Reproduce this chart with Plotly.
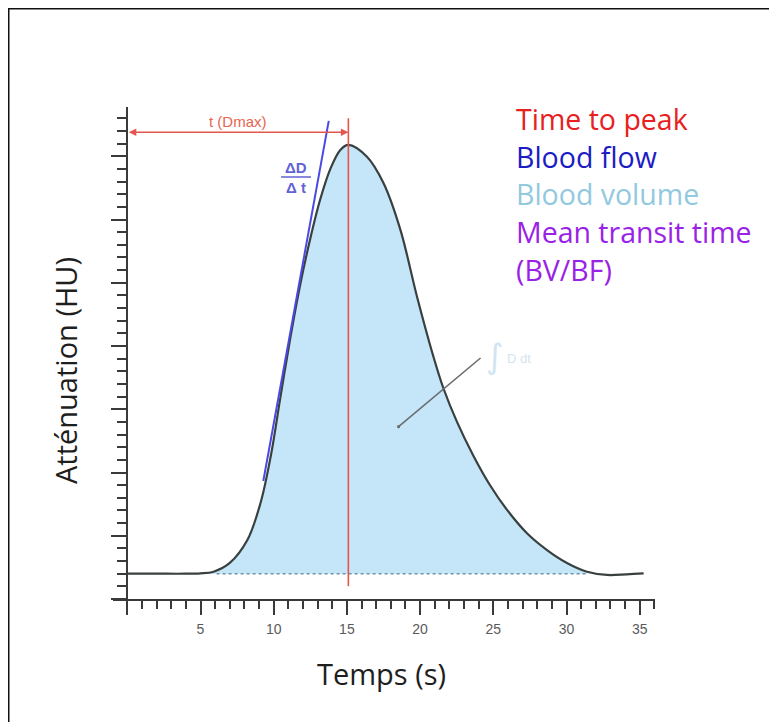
import plotly.graph_objects as go

# ---------------- data ----------------
time_s = [0, 2, 4, 5, 5.9, 7.0, 8.2, 9.1, 9.8, 10.45, 11.13, 11.82, 12.5, 13.18,
          13.87, 14.55, 15.1, 16.37, 17.49, 18.65, 19.79, 20.9, 21.58, 22.52,
          23.63, 24.8, 25.94, 27.3, 28.67, 30.03, 31.4, 32.77, 34.1, 35.27]
attenuation = [2.0, 2.0, 2.0, 2.03, 2.16, 2.85, 4.66, 7.59, 11.3, 15.9, 20.6,
               24.9, 28.5, 31.6, 34.0, 35.5, 35.9, 34.96, 32.9, 29.2, 23.9, 19.2,
               16.7, 14.0, 11.35, 8.95, 7.04, 5.2, 3.87, 2.85, 2.16, 1.9, 1.95, 2.03]
baseline_level = 2.0
baseline_span = [6.1, 31.4]
peak_time = 15.1
peak_line_span = [1.0, 38.0]
tmax_arrow_level = 36.9
tangent_t = [9.29, 13.76]
tangent_d = [9.33, 37.8]
integral_arrow_from = [24.23, 19.15]
integral_arrow_to = [18.53, 13.62]

x_tick_vals = [0, 5, 10, 15, 20, 25, 30, 35]
x_tick_text = ["", "5", "10", "15", "20", "25", "30", "35"]

legend_lines = ["Time to peak", "Blood flow", "Blood volume",
                "Mean transit time", "(BV/BF)"]
legend_colors = ["#e8201e", "#1c1cc4", "#93c9df", "#9a22e6", "#9a22e6"]

# ---------------- geometry helpers (screen pixel layout) ----------------
OFF = 8                      # page body margin
W, H = 769, 714
PX0, PX_PER_S = 127.3, 14.64      # screen x pixel of t=0, pixels per second
PY0, PY_PER_U = 599.0, 12.65      # screen y pixel of D=0, pixels per unit
dom_px = [113.0, 655.0]
dom_py = [599.0, 107.0]

def px(x):
    return (x - OFF) / W

def py(y):
    return 1 - (y - OFF) / H

x_range = [(dom_px[0] - PX0) / PX_PER_S, (dom_px[1] - PX0) / PX_PER_S]
y_range = [(PY0 - dom_py[0]) / PY_PER_U, (PY0 - dom_py[1]) / PY_PER_U]

fig = go.Figure()

# fill region (between baseline and curve)
fill_t = [t for t, d in zip(time_s, attenuation) if d >= baseline_level and 4.5 < t < 32]
fill_d = [d for t, d in zip(time_s, attenuation) if d >= baseline_level and 4.5 < t < 32]
fig.add_trace(go.Scatter(x=fill_t, y=[baseline_level] * len(fill_t), mode="lines",
                         line=dict(width=0, color="rgba(0,0,0,0)"), hoverinfo="skip",
                         showlegend=False))
fig.add_trace(go.Scatter(x=fill_t, y=fill_d, mode="lines", fill="tonexty",
                         fillcolor="#c5e5f8", line=dict(width=0, shape="spline",
                                                        color="rgba(0,0,0,0)"),
                         hoverinfo="skip", showlegend=False))
# dotted baseline
fig.add_trace(go.Scatter(x=baseline_span, y=[baseline_level] * 2, mode="lines",
                         line=dict(color="#6f93a8", width=1.5, dash="dot"),
                         showlegend=False))
# attenuation curve
fig.add_trace(go.Scatter(x=time_s, y=attenuation, mode="lines",
                         line=dict(color="#384040", width=2.2, shape="spline"),
                         showlegend=False))
# tangent (blood flow slope)
fig.add_trace(go.Scatter(x=tangent_t, y=tangent_d, mode="lines",
                         line=dict(color="#4a4ae2", width=2), showlegend=False))
# time-to-peak vertical line
fig.add_trace(go.Scatter(x=[peak_time, peak_time], y=peak_line_span, mode="lines",
                         line=dict(color="#e4574c", width=1.6), showlegend=False))

annotations = []
# double arrow t(Dmax)
annotations.append(dict(x=peak_time, y=tmax_arrow_level, ax=0, ay=tmax_arrow_level,
                        xref="x", yref="y", axref="x", ayref="y", text="",
                        showarrow=True, arrowhead=2, startarrowhead=2,
                        arrowside="end+start", arrowsize=1, startarrowsize=1,
                        arrowwidth=1.5, arrowcolor="#e4574c", standoff=0, startstandoff=0))
annotations.append(dict(x=px(238), y=py(121), xref="paper", yref="paper",
                        text="t (Dmax)", showarrow=False, xanchor="center", yanchor="middle",
                        font=dict(family="Liberation Sans, Arial", size=15, color="#e8644f")))
# ΔD / Δt
annotations.append(dict(x=px(296), y=py(167), xref="paper", yref="paper", text="<b>ΔD</b>",
                        showarrow=False, xanchor="center", yanchor="middle",
                        font=dict(family="Liberation Sans, Arial", size=15, color="#6262d6")))
annotations.append(dict(x=px(296), y=py(187), xref="paper", yref="paper", text="<b>Δ t</b>",
                        showarrow=False, xanchor="center", yanchor="middle",
                        font=dict(family="Liberation Sans, Arial", size=15, color="#6262d6")))
# integral label
annotations.append(dict(x=px(495), y=py(356), xref="paper", yref="paper", text="∫",
                        showarrow=False, xanchor="center", yanchor="middle",
                        font=dict(family="DejaVu Sans", size=34, color="#d3e5f1")))
annotations.append(dict(x=px(505), y=py(358), xref="paper", yref="paper", text="D dt",
                        showarrow=False, xanchor="left", yanchor="middle",
                        font=dict(family="Liberation Sans, Arial", size=13, color="#d3e5f1")))
# integral pointer arrow
annotations.append(dict(x=integral_arrow_to[0], y=integral_arrow_to[1],
                        ax=integral_arrow_from[0], ay=integral_arrow_from[1],
                        xref="x", yref="y", axref="x", ayref="y", text="",
                        showarrow=True, arrowhead=6, arrowsize=0.5, arrowwidth=1.6,
                        arrowcolor="#6a6e70", standoff=0))
# legend-like text block
legend_y = [119, 157, 194, 232, 270]
for txt, col, yy in zip(legend_lines, legend_colors, legend_y):
    annotations.append(dict(x=px(514), y=py(yy), xref="paper", yref="paper", text=txt,
                            showarrow=False, xanchor="left", yanchor="middle",
                            font=dict(family="Open Sans", size=28.5, color=col)))
# axis titles
annotations.append(dict(x=px(65), y=py(371), xref="paper", yref="paper",
                        text="Atténuation (HU)", textangle=-90, showarrow=False,
                        xanchor="center", yanchor="middle",
                        font=dict(family="Open Sans", size=29, color="#1e1e1e")))
annotations.append(dict(x=px(381), y=py(673), xref="paper", yref="paper",
                        text="Temps (s)", showarrow=False,
                        xanchor="center", yanchor="middle",
                        font=dict(family="Open Sans", size=29, color="#1e1e1e")))

shapes = [
    # fraction bar of ΔD/Δt
    dict(type="line", xref="paper", yref="paper", x0=px(281), x1=px(311),
         y0=py(177), y1=py(177), line=dict(color="#6262d6", width=1.5)),
    # outer frame (left and top edges visible)
    dict(type="rect", xref="paper", yref="paper", x0=px(8.5), x1=px(800),
         y0=py(8.5), y1=py(740), line=dict(color="#111111", width=2)),
]

axis_col = "#3a3a3a"
fig.update_layout(
    width=W, height=H,
    margin=dict(l=0, r=0, t=0, b=0),
    paper_bgcolor="white", plot_bgcolor="white",
    showlegend=False,
    annotations=annotations,
    shapes=shapes,
    xaxis=dict(domain=[px(dom_px[0]), px(dom_px[1])], range=x_range,
               anchor="y", showgrid=False, zeroline=False,
               showline=True, linecolor=axis_col, linewidth=2,
               tickmode="array", tickvals=x_tick_vals, ticktext=x_tick_text,
               ticks="outside", ticklen=14, tickwidth=2, tickcolor=axis_col,
               ticklabelstandoff=2,
               tickfont=dict(family="Liberation Sans, Arial", size=14, color="#5a5a5a"),
               minor=dict(tickmode="linear", tick0=0, dtick=1, ticks="outside",
                          ticklen=8, tickwidth=1.6, tickcolor=axis_col, showgrid=False)),
    yaxis=dict(domain=[py(dom_py[0]), py(dom_py[1])], range=y_range,
               anchor="free", position=px(PX0), showgrid=False, zeroline=False,
               showline=True, linecolor=axis_col, linewidth=2,
               tickmode="linear", tick0=0, dtick=5, showticklabels=False,
               ticks="outside", ticklen=15, tickwidth=2, tickcolor=axis_col,
               minor=dict(tickmode="linear", tick0=0, dtick=1, ticks="outside",
                          ticklen=9, tickwidth=1.6, tickcolor=axis_col, showgrid=False)),
)

fig.write_html("out.html")
